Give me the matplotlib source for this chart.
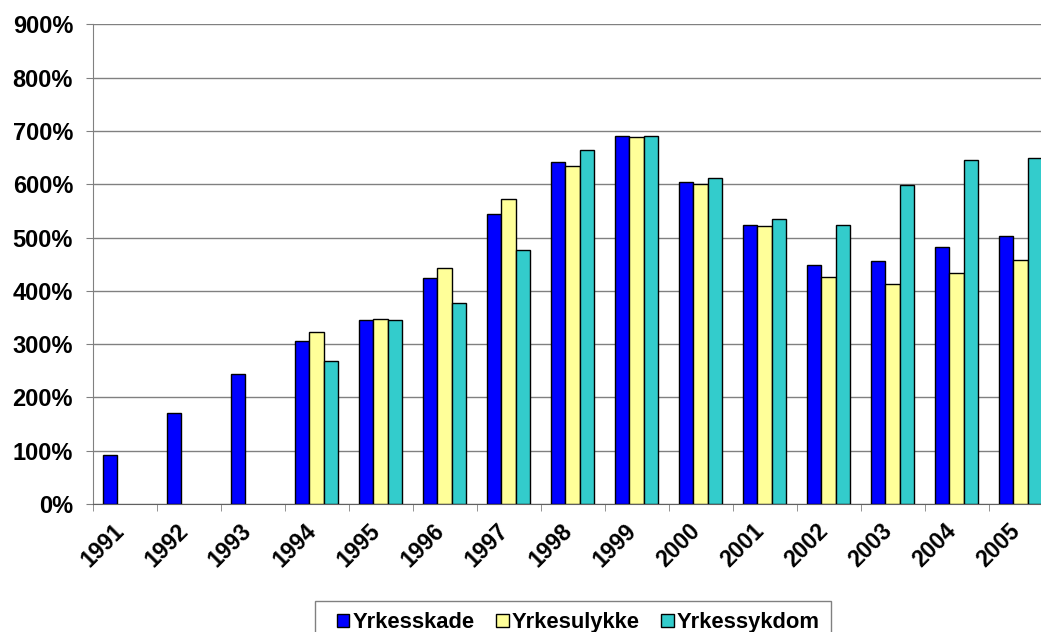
import matplotlib
matplotlib.use("Agg")
import matplotlib.pyplot as plt
import matplotlib.transforms as mtransforms
from matplotlib.patches import Rectangle
import numpy as np

years = ["1991", "1992", "1993", "1994", "1995", "1996", "1997", "1998",
         "1999", "2000", "2001", "2002", "2003", "2004", "2005"]
yrkesskade = [91, 171, 244, 305, 346, 424, 545, 642, 690, 604, 524, 448, 456, 482, 503]
yrkesulykke = [np.nan, np.nan, np.nan, 322, 347, 442, 573, 635, 689, 601, 521, 426, 413, 434, 458]
yrkessykdom = [np.nan, np.nan, np.nan, 268, 346, 377, 477, 665, 691, 612, 535, 524, 598, 645, 649]
series_names = ["Yrkesskade", "Yrkesulykke", "Yrkessykdom"]
colors = ["#0000FF", "#FFFF99", "#33CCCC"]
yticks = [0, 100, 200, 300, 400, 500, 600, 700, 800, 900]

plt.rcParams['font.family'] = ['Liberation Sans', 'DejaVu Sans']

W, H = 1041, 632
fig = plt.figure(figsize=(W / 100, H / 100), dpi=100)
ax = fig.add_axes([92.5 / W, 1 - 504 / H, 960 / W, (504 - 24.3) / H])

x = np.arange(len(years))
bw = 0.224
for i, (vals, name, col) in enumerate(zip([yrkesskade, yrkesulykke, yrkessykdom], series_names, colors)):
    ax.bar(x + (i - 1) * bw, vals, width=bw, color=col, edgecolor="black",
           linewidth=1.0, label=name, zorder=3)

ax.set_xlim(-0.5, len(years) - 0.5)
ax.set_ylim(0, 900)
ax.set_yticks(yticks)
ax.set_yticklabels([f"{v}%" for v in yticks], fontsize=17, fontweight="bold")
ax.yaxis.grid(True, color="#808080", linewidth=1.0, zorder=0)
ax.set_axisbelow(True)

ax.set_xticks(x)
ax.set_xticklabels(years, fontsize=16.5, fontweight="bold", rotation=45, ha="right")
ax.set_xticks(np.arange(len(years) + 1) - 0.5, minor=True)
ax.tick_params(axis="x", which="major", length=0, pad=11)
ax.tick_params(axis="x", which="minor", length=5, color="#808080", direction="out")
ax.tick_params(axis="y", length=5, color="#808080", pad=9)
offset = mtransforms.ScaledTranslation(4 / 100, 0, fig.dpi_scale_trans)
for lab in ax.get_xticklabels():
    lab.set_transform(lab.get_transform() + offset)

for s in ["top", "right"]:
    ax.spines[s].set_visible(False)
ax.spines["left"].set_color("#808080")
ax.spines["bottom"].set_color("#606060")

leg = fig.legend(loc="upper left", bbox_to_anchor=(337 / W, 1 - 612 / H), ncol=3,
                 frameon=False,
                 prop={"size": 15.8, "weight": "bold"},
                 handlelength=0.56, handleheight=0.56, handletextpad=0.15,
                 columnspacing=0.98, borderpad=0, borderaxespad=0)
fig.patches.append(Rectangle((315 / W, 1 - 645 / H), (831 - 315) / W, 44 / H,
                             transform=fig.transFigure, fill=False,
                             edgecolor="#808080", linewidth=1.0))

fig.savefig("out.png", dpi=100)
